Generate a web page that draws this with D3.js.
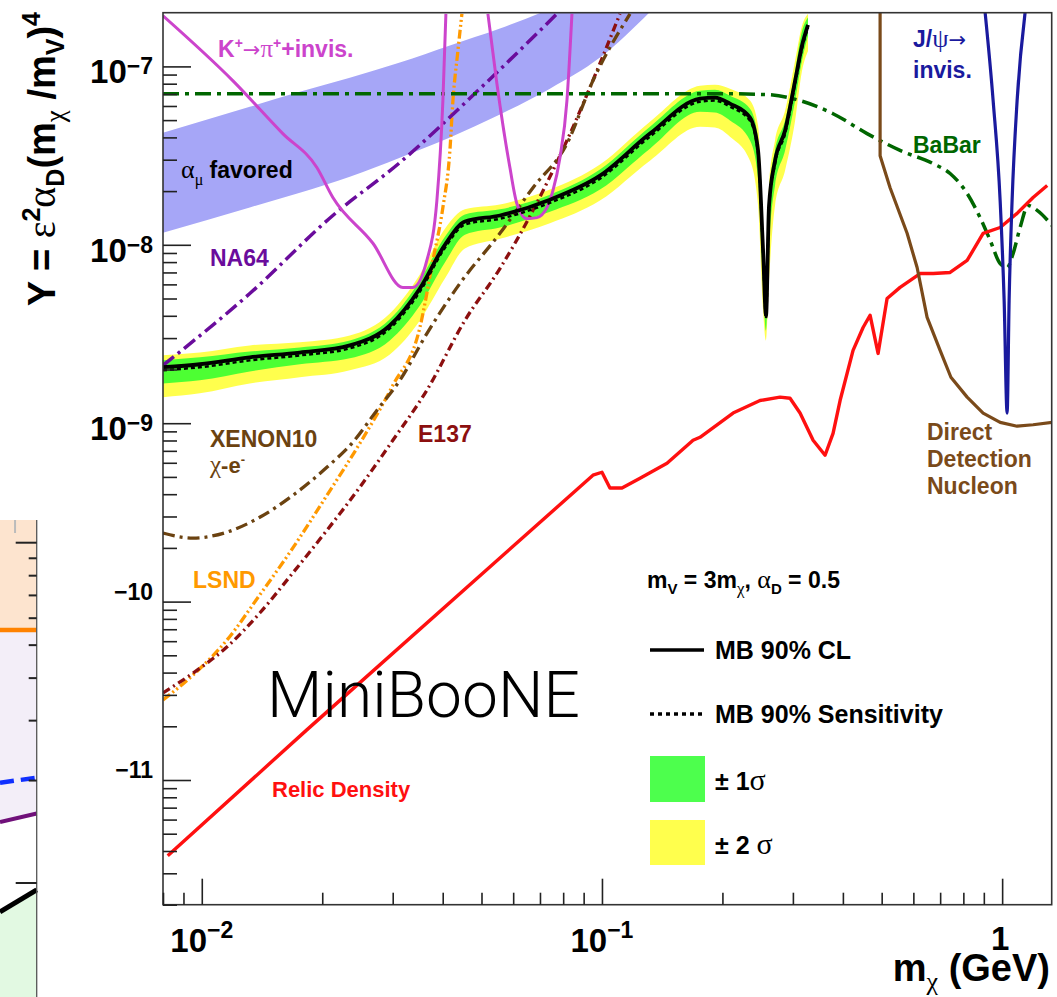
<!DOCTYPE html>
<meta charset="utf-8">
<style>
    body {
        margin: 0;
        background: #fff;
    }
    text {
        font-family: "Liberation Sans", Arial, sans-serif;
        font-weight: bold;
    }
</style>
<body>
<script src="https://d3js.org/d3.v7.min.js"></script>
<script>
    // ---- data (m_chi in GeV, Y dimensionless) ----
    const mbMass = [0.0080, 0.00989, 0.01318, 0.01758, 0.02344, 0.02951, 0.03508, 0.04051, 0.04545, 0.05559, 0.07413, 0.09886, 0.1318,
        0.1758, 0.1916, 0.2089, 0.2344, 0.2455, 0.2527, 0.2570, 0.2615, 0.2707, 0.2868, 0.3039, 0.3162, 0.3273]
    const mbCL = [2.06e-9, 2.14e-9, 2.34e-9, 2.49e-9, 2.73e-9, 3.53e-9, 5.69e-9, 1.00e-8, 1.35e-8, 1.46e-8, 1.79e-8, 2.44e-8, 4.20e-8,
        6.59e-8, 6.68e-8, 6.18e-8, 5.16e-8, 3.38e-8, 9.29e-9, 4.02e-9, 1.66e-8, 2.96e-8, 4.37e-8, 8.32e-8, 1.31e-7, 1.71e-7]
    const mbSens = [1.98e-9, 2.06e-9, 2.25e-9, 2.40e-9, 2.63e-9, 3.40e-9, 5.47e-9, 9.62e-9, 1.30e-8, 1.40e-8, 1.72e-8, 2.35e-8, 4.04e-8,
        6.34e-8, 6.43e-8, 5.95e-8, 4.96e-8, 3.25e-8, 8.94e-9, 3.87e-9, 1.60e-8, 2.85e-8, 4.20e-8, 8.00e-8, 1.26e-7, 1.65e-7]
    const mb1sHi = [2.25e-9, 2.34e-9, 2.52e-9, 2.66e-9, 2.91e-9, 3.82e-9, 6.31e-9, 1.11e-8, 1.48e-8, 1.58e-8, 1.91e-8, 2.64e-8, 4.59e-8,
        7.31e-8, 7.40e-8, 6.85e-8, 5.79e-8, 3.94e-8, 1.13e-8, 4.88e-9, 1.89e-8, 3.38e-8, 4.97e-8, 9.46e-8, 1.58e-7, 1.88e-7]
    const mb1sLo = [1.67e-9, 1.74e-9, 1.95e-9, 2.14e-9, 2.31e-9, 2.91e-9, 4.57e-9, 7.96e-9, 1.14e-8, 1.25e-8, 1.53e-8, 2.04e-8, 3.46e-8,
        5.57e-8, 5.51e-8, 4.97e-8, 3.84e-8, 2.35e-8, 5.92e-9, 3.31e-9, 9.29e-9, 2.15e-8, 3.38e-8, 6.43e-8, 1.08e-7, 1.49e-7]
    const mb2sHi = [2.40e-9, 2.49e-9, 2.73e-9, 2.84e-9, 3.10e-9, 4.12e-9, 6.82e-9, 1.23e-8, 1.58e-8, 1.68e-8, 2.04e-8, 2.82e-8, 4.90e-8,
        7.80e-8, 7.90e-8, 7.50e-8, 6.43e-8, 4.66e-8, 1.20e-8, 5.55e-9, 2.15e-8, 3.84e-8, 5.65e-8, 1.08e-7, 1.69e-7, 1.97e-7]
    const mb2sLo = [1.40e-9, 1.47e-9, 1.67e-9, 1.81e-9, 1.98e-9, 2.43e-9, 3.77e-9, 6.47e-9, 9.53e-9, 1.08e-8, 1.32e-8, 1.77e-8, 2.96e-8,
        4.59e-8, 4.54e-8, 4.04e-8, 2.96e-8, 1.66e-8, 4.29e-9, 2.91e-9, 6.31e-9, 1.66e-8, 2.61e-8, 4.97e-8, 9.46e-8, 1.22e-7]

    // g-2 (alpha_mu) favoured band
    const gm2Mass = [0.0080, 0.01318, 0.01758, 0.02344, 0.03126, 0.04169, 0.05559, 0.07413, 0.09886, 0.1318]
    const gm2Hi = [4.25e-8, 5.94e-8, 7.21e-8, 8.65e-8, 1.05e-7, 1.31e-7, 1.63e-7, 2.10e-7, 2.83e-7, 3.9e-7]
    const gm2Lo = [1.17e-8, 1.62e-8, 1.96e-8, 2.41e-8, 3.08e-8, 3.99e-8, 5.37e-8, 7.50e-8, 1.12e-7, 2.02e-7]

    const kpiLeft = [[0.0080, 1.92e-7], [0.01195, 8.32e-8], [0.01594, 4.20e-8], [0.01939, 2.71e-8], [0.02126, 1.84e-8],
        [0.02677, 1.02e-8], [0.03181, 5.77e-9], [0.03370, 5.77e-9], [0.03651, 8.17e-9], [0.03868, 1.77e-8],
        [0.04004, 6.43e-8], [0.04074, 1.97e-7]]
    const kpiRight = [[0.05188, 1.97e-7], [0.05464, 8.0e-8], [0.05888, 2.71e-8], [0.06131, 1.70e-8], [0.06494, 1.40e-8],
        [0.06879, 1.42e-8], [0.07290, 1.62e-8], [0.07542, 2.01e-8], [0.07852, 3.08e-8], [0.08175, 6.43e-8], [0.08414, 1.97e-7]]
    const na64 = [[0.0080, 2.11e-9], [0.01318, 5.33e-9], [0.02126, 1.46e-8], [0.03126, 2.89e-8], [0.04955, 7.50e-8], [0.07716, 1.97e-7]]
    const babar = [[0.0080, 7.03e-8], [0.1972, 7.03e-8], [0.2585, 6.95e-8], [0.3126, 6.43e-8], [0.3780, 5.43e-8], [0.4597, 4.20e-8],
        [0.5559, 3.38e-8], [0.6724, 2.85e-8], [0.7413, 2.51e-8], [0.8176, 1.94e-8], [0.8810, 1.42e-8], [0.9333, 1.06e-8],
        [0.9886, 7.85e-9], [1.029, 7.46e-9], [1.065, 8.93e-9], [1.109, 1.25e-8], [1.161, 1.66e-8], [1.223, 1.56e-8], [1.334, 1.28e-8]]
    const xenon10 = [[0.0080, 2.42e-10], [0.00950, 2.27e-10], [0.01155, 2.45e-10], [0.01396, 2.97e-10], [0.01689, 3.94e-10],
        [0.02054, 5.66e-10], [0.02385, 7.82e-10], [0.02738, 1.18e-9], [0.03126, 1.74e-9], [0.03651, 3.18e-9], [0.04416, 6.07e-9],
        [0.05559, 1.16e-8], [0.06724, 2.09e-8], [0.08175, 3.69e-8], [0.09495, 8.32e-8], [0.1175, 1.97e-7]]
    const e137 = [[0.0080, 3.08e-11], [0.00950, 3.97e-11], [0.01155, 5.56e-11], [0.01396, 8.63e-11], [0.01689, 1.45e-10],
        [0.02054, 2.51e-10], [0.02483, 4.38e-10], [0.03002, 8.02e-10], [0.03651, 1.53e-9], [0.04545, 3.77e-9], [0.05559, 7.36e-9],
        [0.06724, 1.56e-8], [0.08175, 3.84e-8], [0.09886, 1.04e-7], [0.1109, 1.97e-7]]
    const lsnd = [[0.0080, 2.81e-11], [0.00950, 3.87e-11], [0.01155, 6.08e-11], [0.01396, 1.09e-10], [0.01689, 2.00e-10],
        [0.02054, 3.94e-10], [0.02483, 7.71e-10], [0.03002, 1.63e-9], [0.03508, 3.44e-9], [0.03780, 8.17e-9], [0.04004, 1.62e-8],
        [0.04169, 3.38e-8], [0.04242, 6.43e-8], [0.04365, 1.22e-7], [0.04467, 1.97e-7]]
    const relic = [[0.00822, 3.76e-12], [0.01830, 1.91e-11], [0.09495, 5.11e-10], [0.1, 5.31e-10], [0.1047, 4.33e-10],
        [0.1122, 4.33e-10], [0.1245, 4.92e-10], [0.1454, 5.96e-10], [0.1689, 8.02e-10], [0.1758, 8.34e-10], [0.2126, 1.14e-9],
        [0.2483, 1.34e-9], [0.2786, 1.40e-9], [0.2951, 1.38e-9], [0.3126, 1.14e-9], [0.3370, 8.02e-10], [0.3610, 6.61e-10],
        [0.3780, 8.77e-10], [0.3936, 1.34e-9], [0.4241, 2.56e-9], [0.4493, 3.44e-9], [0.4677, 4.03e-9], [0.4898, 2.46e-9],
        [0.5158, 5.00e-9], [0.5559, 5.77e-9], [0.6237, 6.90e-9], [0.6724, 6.90e-9], [0.7413, 7.00e-9], [0.8176, 8.17e-9],
        [0.8963, 1.16e-8], [0.9886, 1.25e-8], [1.090, 1.50e-8], [1.195, 1.84e-8], [1.296, 2.15e-8]]
    const directDet = [[0.4955, 2.5e-7], [0.4955, 3.16e-8], [0.5248, 2.09e-8], [0.5788, 1.16e-8], [0.6131, 7.46e-9],
        [0.6494, 3.92e-9], [0.6998, 2.56e-9], [0.7447, 1.81e-9], [0.8176, 1.40e-9], [0.8963, 1.14e-9], [0.9886, 1.01e-9],
        [1.090, 9.62e-10], [1.195, 9.8e-10], [1.334, 1.01e-9]]
    const jpsi = [[0.9068, 2.0e-7], [0.9495, 6.43e-8], [0.9886, 1.77e-8], [1.0116, 4.88e-9], [1.029, 1.14e-9],
        [1.041, 4.88e-9], [1.059, 1.77e-8], [1.090, 6.43e-8], [1.141, 2.0e-7]]

    const xMajor = [0.01, 0.1, 1]
    const xLabels = [["10", "\u22122"], ["10", "\u22121"], ["1", ""]]
    const yMajor = [1e-7, 1e-8, 1e-9, 1e-10, 1e-11]
    const yLabels = [["10", "\u22127"], ["10", "\u22128"], ["10", "\u22129"], ["", "\u221210"], ["", "\u221211"]]

    // neighbouring panel that pokes in at the left edge
    const fragOrange = [[0, 0.554], [1, 0.554]]
    const fragBlue = [[0, 0.197], [1, 0.204]]
    const fragPurple = [[0, 0.151], [1, 0.160]]
    const fragBlack = [[0, 0.0822], [1, 0.0955]]

    // ---- layout ----
    const W = 1057, H = 997
    const pLeft = 163, pRight = 1051.7, pTop = 12.7, pBottom = 904.7
    const SERIF = "'Liberation Serif', 'DejaVu Serif', serif"
    const ARROW = "'DejaVu Sans', sans-serif"

    const x = d3.scaleLog().domain([0.008, 1.33]).range([pLeft, pRight])
    const y = d3.scaleLog().domain([2e-12, 2e-7]).range([pBottom, pTop])

    const svg = d3.select("body").append("svg")
        .attr("width", W)
        .attr("height", H)

    svg.append("clipPath").attr("id", "plotClip")
        .append("rect")
        .attr("x", pLeft).attr("y", pTop)
        .attr("width", pRight - pLeft).attr("height", pBottom - pTop)

    // rich text helper: parts with optional shift (sub/superscript), size, serif
    function rich(parent, px, py, parts, attrs) {
        const t = parent.append("text").attr("x", px).attr("y", py)
        Object.entries(attrs || {}).forEach(([k, v]) => t.attr(k, v))
        let cur = 0
        parts.forEach(p => {
            const s = p.shift || 0
            const ts = t.append("tspan").text(p.t).attr("dy", s - cur)
            cur = s
            if (p.size) ts.attr("font-size", p.size)
            if (p.serif) ts.attr("font-family", SERIF).attr("font-weight", "normal")
            if (p.arrow) ts.attr("font-family", ARROW).attr("font-weight", "normal")
        })
        return t
    }

    // ---- left fragment of the other figure ----
    const fx = d3.scaleLinear().domain([0, 1]).range([0, 36.7])
    const fy = d3.scaleLog().domain([0.1, 1]).range([883, 542.7])
    const frag = svg.append("g")

    frag.append("path").datum(fragOrange)
        .attr("d", d3.area().x(d => fx(d[0])).y0(fy(1.166)).y1(d => fy(d[1])))
        .attr("fill", "#fde4cf")
    frag.append("path").datum(fragOrange.map((d, i) => [d[0], d[1], fragPurple[i][1]]))
        .attr("d", d3.area().x(d => fx(d[0])).y0(d => fy(d[1])).y1(d => fy(d[2])))
        .attr("fill", "#f3eef8")
    frag.append("path").datum(fragBlack)
        .attr("d", d3.area().x(d => fx(d[0])).y0(H).y1(d => fy(d[1])))
        .attr("fill", "#e2f9e2")

    const fLine = d3.line().x(d => fx(d[0])).y(d => fy(d[1]))
    frag.append("path").datum(fragOrange).attr("d", fLine)
        .attr("fill", "none").attr("stroke", "#ff8200").attr("stroke-width", 4.5)
    frag.append("path").datum(fragBlue).attr("d", fLine)
        .attr("fill", "none").attr("stroke", "#1030ff").attr("stroke-width", 4.5).attr("stroke-dasharray", "14 7")
    frag.append("path").datum(fragPurple).attr("d", fLine)
        .attr("fill", "none").attr("stroke", "#70107a").attr("stroke-width", 4)
    frag.append("path").datum(fragBlack).attr("d", fLine)
        .attr("fill", "none").attr("stroke", "#000").attr("stroke-width", 5)

    frag.append("line")
        .attr("x1", fx(1)).attr("x2", fx(1)).attr("y1", fy(1.166)).attr("y2", H)
        .attr("stroke", "#555").attr("stroke-width", 1.3)
    const fragTicks = fy.ticks().filter(v => v < 1.166)
    frag.selectAll(".ftick").data(fragTicks).enter().append("line")
        .attr("x1", d => fx(1) - ([0.1, 1].includes(d) ? 21 : 8))
        .attr("x2", fx(1))
        .attr("y1", d => fy(d)).attr("y2", d => fy(d))
        .attr("stroke", "#222").attr("stroke-width", 2)
    frag.append("line")
        .attr("x1", fx(0.41)).attr("x2", fx(0.41)).attr("y1", fy(1.166)).attr("y2", fy(1.166) + 13)
        .attr("stroke", "#bbb").attr("stroke-width", 2)

    // ---- main plot ----
    const plot = svg.append("g").attr("clip-path", "url(#plotClip)")

    const lineMono = d3.line().x(d => x(d[0])).y(d => y(d[1])).curve(d3.curveMonotoneX)
    const lineLin = d3.line().x(d => x(d[0])).y(d => y(d[1]))

    // g-2 band
    plot.append("path")
        .datum(gm2Mass.map((m, i) => [m, gm2Lo[i], gm2Hi[i]]))
        .attr("d", d3.area().curve(d3.curveMonotoneX).x(d => x(d[0])).y0(d => y(d[1])).y1(d => y(d[2])))
        .attr("fill", "#a6a6f7")

    // MiniBooNE 1 and 2 sigma bands
    const mbRows = mbMass.map((m, i) => ({m, cl: mbCL[i], sens: mbSens[i], lo1: mb1sLo[i], hi1: mb1sHi[i], lo2: mb2sLo[i], hi2: mb2sHi[i]}))
    plot.append("path").datum(mbRows)
        .attr("d", d3.area().curve(d3.curveMonotoneX).x(d => x(d.m)).y0(d => y(d.lo2)).y1(d => y(d.hi2)))
        .attr("fill", "#ffff4d")
    plot.append("path").datum(mbRows)
        .attr("d", d3.area().curve(d3.curveMonotoneX).x(d => x(d.m)).y0(d => y(d.lo1)).y1(d => y(d.hi1)))
        .attr("fill", "#4dff33")

    const curves = [
        {data: lsnd, color: "#ff9900", w: 3.3, dash: "9 3 2 3 2 3", gen: lineMono},
        {data: e137, color: "#8c0f0f", w: 3.3, dash: "8 4 2 4", gen: lineMono},
        {data: xenon10, color: "#6b4210", w: 3.3, dash: "12 5 3 5", gen: lineMono},
        {data: na64, color: "#6a0c9c", w: 3.5, dash: "14 5 3 5", gen: lineMono},
        {data: babar, color: "#006600", w: 3.5, dash: "16 6 4 6", gen: lineMono},
        {data: kpiLeft, color: "#cc44cc", w: 3, dash: null, gen: lineMono},
        {data: kpiRight, color: "#cc44cc", w: 3, dash: null, gen: lineMono},
        {data: relic, color: "#ff1010", w: 3.4, dash: null, gen: lineLin},
        {data: directDet, color: "#7a4a1a", w: 3.2, dash: null, gen: lineLin},
        {data: jpsi, color: "#1a1a9e", w: 3.2, dash: null, gen: lineMono}
    ]
    curves.forEach(c => {
        plot.append("path").datum(c.data)
            .attr("d", c.gen)
            .attr("fill", "none")
            .attr("stroke", c.color)
            .attr("stroke-width", c.w)
            .attr("stroke-dasharray", c.dash)
            .attr("stroke-linejoin", "round")
    })

    // MiniBooNE sensitivity and limit
    plot.append("path").datum(mbRows)
        .attr("d", d3.line().curve(d3.curveMonotoneX).x(d => x(d.m)).y(d => y(d.sens)))
        .attr("fill", "none").attr("stroke", "#000").attr("stroke-width", 2.5).attr("stroke-dasharray", "4 3")
    plot.append("path").datum(mbRows)
        .attr("d", d3.line().curve(d3.curveMonotoneX).x(d => x(d.m)).y(d => y(d.cl)))
        .attr("fill", "none").attr("stroke", "#000").attr("stroke-width", 3.8).attr("stroke-linejoin", "round")

    // ---- frame and axes ----
    svg.append("rect")
        .attr("x", pLeft).attr("y", pTop)
        .attr("width", pRight - pLeft).attr("height", pBottom - pTop)
        .attr("fill", "none").attr("stroke", "#333").attr("stroke-width", 1.6)

    const xMinor = x.ticks().filter(v => !xMajor.some(m => Math.abs(m - v) / m < 1e-6))
    const yMinor = y.ticks().filter(v => !yMajor.some(m => Math.abs(m - v) / m < 1e-6) && v < 1.9e-7)

    const axisStyle = g => {
        g.select(".domain").remove()
        g.selectAll("line").attr("stroke", "#222").attr("stroke-width", 1.6)
    }
    svg.append("g").attr("transform", `translate(0,${pBottom})`)
        .call(d3.axisBottom(x).tickValues(xMinor).tickSize(-12).tickFormat(""))
        .call(axisStyle)
    svg.append("g").attr("transform", `translate(0,${pBottom})`)
        .call(d3.axisBottom(x).tickValues(xMajor).tickSize(-26).tickFormat(""))
        .call(axisStyle)
    svg.append("g").attr("transform", `translate(${pLeft},0)`)
        .call(d3.axisLeft(y).tickValues(yMinor).tickSize(-14).tickFormat(""))
        .call(axisStyle)
    svg.append("g").attr("transform", `translate(${pLeft},0)`)
        .call(d3.axisLeft(y).tickValues(yMajor).tickSize(-28).tickFormat(""))
        .call(axisStyle)

    // tick labels
    xMajor.forEach((v, i) => {
        const [b, e] = xLabels[i]
        const parts = [{t: b, size: 33}]
        if (e) parts.push({t: e, size: 23, shift: -14})
        rich(svg, x(v) + (e ? 0 : -2), e ? 952 : 950, parts, {"text-anchor": "middle"})
    })
    yMajor.forEach((v, i) => {
        const [b, e] = yLabels[i]
        if (b) {
            rich(svg, 153, y(v) + 17, [{t: b, size: 33}, {t: e, size: 23, shift: -9}], {"text-anchor": "end"})
        } else {
            rich(svg, 153, y(v) - 2, [{t: e, size: 23}], {"text-anchor": "end"})
        }
    })

    // axis titles
    rich(svg, 1050, 981, [
        {t: "m", size: 38},
        {t: "\u03c7", size: 26, serif: true, shift: 9},
        {t: " (GeV)", size: 38, shift: 0}
    ], {"text-anchor": "end"})

    const yTitle = svg.append("g").attr("transform", "translate(55,12) rotate(-90)")
    rich(yTitle, 0, 0, [
        {t: "Y = ", size: 38},
        {t: "\u03b5", size: 40, serif: true},
        {t: "2", size: 25, shift: -15},
        {t: "\u03b1", size: 40, serif: true, shift: 0},
        {t: "D", size: 25, shift: 9},
        {t: "(m", size: 38, shift: 0},
        {t: "\u03c7", size: 27, serif: true, shift: 9},
        {t: " /m", size: 38, shift: 0},
        {t: "V", size: 25, shift: 9},
        {t: ")", size: 38, shift: 0},
        {t: "4", size: 25, shift: -15}
    ], {"text-anchor": "end"})

    // ---- curve labels ----
    const lab = svg.append("g").attr("font-size", 23)
    rich(lab, 218, 57, [
        {t: "K"}, {t: "+", size: 14, shift: -9}, {t: "\u2192", arrow: true, size: 21, shift: 0},
        {t: "\u03c0", serif: true, size: 25}, {t: "+", size: 14, shift: -9}, {t: "+invis.", shift: 0}
    ]).attr("fill", "#cc44cc")
    rich(lab, 181, 178, [
        {t: "\u03b1", serif: true, size: 26}, {t: "\u03bc", serif: true, size: 16, shift: 7}, {t: " favored", shift: 0}
    ]).attr("fill", "#000")
    rich(lab, 210, 266, [{t: "NA64"}]).attr("fill", "#6a0c9c")
    rich(lab, 210, 447, [{t: "XENON10"}]).attr("fill", "#6b4210")
    rich(lab, 210, 473, [
        {t: "\u03c7", serif: true, size: 25}, {t: "-e", size: 22}, {t: "-", size: 13, shift: -9}
    ]).attr("fill", "#6b4210")
    rich(lab, 418, 442, [{t: "E137"}]).attr("fill", "#8c0f0f")
    rich(lab, 193, 588, [{t: "LSND"}]).attr("fill", "#ff9900")
    rich(lab, 272, 797, [{t: "Relic Density"}]).attr("fill", "#ff1010").attr("font-size", 22)
    rich(lab, 913, 153, [{t: "BaBar"}]).attr("fill", "#006600")
    rich(lab, 913, 47, [
        {t: "J/"}, {t: "\u03c8", serif: true, size: 26}, {t: "\u2192", arrow: true, size: 21}
    ]).attr("fill", "#1a1a9e")
    rich(lab, 913, 78, [{t: "invis."}]).attr("fill", "#1a1a9e")
    ;["Direct", "Detection", "Nucleon"].forEach((s, i) => {
        rich(lab, 927, 440 + i * 27, [{t: s}]).attr("fill", "#7a4a1a")
    })

    svg.append("text")
        .attr("x", 267).attr("y", 717)
        .style("font-family", "Roboto, Lato, 'Open Sans', sans-serif")
        .style("font-weight", 300)
        .attr("font-size", 64)
        .attr("textLength", 313)
        .text("MiniBooNE")

    // ---- legend ----
    const leg = svg.append("g").attr("font-size", 24)
    rich(leg, 647, 588, [
        {t: "m"}, {t: "V", size: 15, shift: 6}, {t: " = 3m", shift: 0}, {t: "\u03c7", serif: true, size: 17, shift: 6},
        {t: ", ", shift: 0}, {t: "\u03b1", serif: true, size: 26}, {t: "D", size: 15, shift: 6}, {t: " = 0.5", shift: 0}
    ]).attr("font-size", 23)

    leg.append("line").attr("x1", 650).attr("x2", 704).attr("y1", 650).attr("y2", 650)
        .attr("stroke", "#000").attr("stroke-width", 3.5)
    rich(leg, 715, 659, [{t: "MB 90% CL"}]).attr("font-size", 25)
    leg.append("line").attr("x1", 650).attr("x2", 704).attr("y1", 714).attr("y2", 714)
        .attr("stroke", "#000").attr("stroke-width", 3.5).attr("stroke-dasharray", "4 4")
    rich(leg, 715, 723, [{t: "MB 90% Sensitivity"}]).attr("font-size", 25)

    leg.append("rect").attr("x", 650).attr("y", 756).attr("width", 55).attr("height", 46).attr("fill", "#4dff4d")
    rich(leg, 715, 790, [{t: "\u00b1 1", size: 25}, {t: "\u03c3", serif: true, size: 30}])
    leg.append("rect").attr("x", 650).attr("y", 820).attr("width", 55).attr("height", 45).attr("fill", "#ffff4d")
    rich(leg, 715, 854, [{t: "\u00b1 2 ", size: 25}, {t: "\u03c3", serif: true, size: 30}])
</script>
